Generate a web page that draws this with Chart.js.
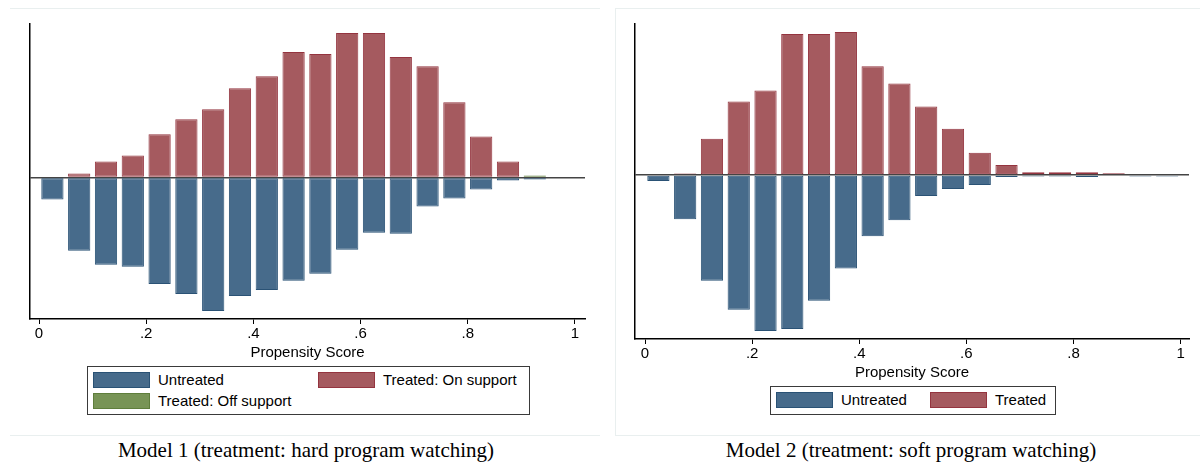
<!DOCTYPE html>
<html>
<head>
<meta charset="utf-8">
<script src="https://cdn.jsdelivr.net/npm/chart.js@4.4.1/dist/chart.umd.min.js"></script>
<style>
    html, body { margin: 0; padding: 0; background: #ffffff; }
    body { width: 1200px; height: 466px; position: relative; overflow: hidden; font-family: "Liberation Sans", Arial, sans-serif; }
    .panel { position: absolute; border: 1px solid #e9efef; }
    #panel-1 { left: 10px; top: 8px; width: 590px; height: 426px; border-left: none; border-right: none; }
    #panel-2 { left: 615px; top: 8px; width: 590px; height: 426px; border-right: none; }
    .chart-box { position: absolute; }
    #box-1 { left: 0; top: 0; width: 600px; height: 364px; }
    #box-2 { left: 600px; top: 0; width: 600px; height: 384px; }
    .legend { position: absolute; border: 1.5px solid #3a3a3a; box-sizing: border-box; font-size: 15px; color: #000; }
    #legend-1 { left: 87px; top: 366px; width: 443px; height: 49px; }
    #legend-2 { left: 770px; top: 386px; width: 286px; height: 29px; }
    .legend-item { position: absolute; height: 16px; line-height: 16px; white-space: nowrap; }
    .swatch { position: absolute; left: 0; top: 0; width: 55px; height: 14px; border: 1px solid; }
    .legend-item span.lbl { position: absolute; left: 65px; top: 0; }
    .caption { position: absolute; top: 438px; font-family: "Liberation Serif", "Times New Roman", serif; font-size: 21px; color: #000; text-align: center; width: 600px; }
</style>
</head>
<body>
<div class="panel" id="panel-1"></div>
<div class="panel" id="panel-2"></div>
<div class="chart-box" id="box-1"><canvas id="chart-1"></canvas></div>
<div class="chart-box" id="box-2"><canvas id="chart-2"></canvas></div>
<div class="legend" id="legend-1"></div>
<div class="legend" id="legend-2"></div>
<div class="caption" style="left: 6px;">Model 1 (treatment: hard program watching)</div>
<div class="caption" style="left: 611px;">Model 2 (treatment: soft program watching)</div>

<script>
// --- DATOS ---
const tickValues = [0, 0.2, 0.4, 0.6, 0.8, 1];
const tickLabels = ['0', '.2', '.4', '.6', '.8', '1'];
const axisTitle = 'Propensity Score';

// Modelo 1: centros de los intervalos (ancho .05)
const binCenters1 = [0.025, 0.075, 0.125, 0.175, 0.225, 0.275, 0.325, 0.375, 0.425, 0.475,
    0.525, 0.575, 0.625, 0.675, 0.725, 0.775, 0.825, 0.875, 0.925];
const untreated1 = [-22, -73, -87, -89, -106, -116, -133, -118, -112, -103,
    -96, -72, -55, -56, -29, -21, -12, -3, -2];
const treatedOn1 = [0, 4, 16, 22, 43, 58, 68, 89, 101, 125,
    123, 144, 144, 120, 111, 75, 41, 16, 0];
const treatedOff1 = [0, 0, 0, 0, 0, 0, 0, 0, 0, 0,
    0, 0, 0, 0, 0, 0, 0, 0, 2];

// Modelo 2
const binCenters2 = [0.025, 0.075, 0.125, 0.175, 0.225, 0.275, 0.325, 0.375, 0.425, 0.475,
    0.525, 0.575, 0.625, 0.675, 0.725, 0.775, 0.825, 0.875, 0.925, 0.975];
const untreated2 = [-6, -44, -105, -134, -155, -153, -125, -93, -61, -45,
    -21, -14, -10, -2, -1.5, -1.5, -2, 0, -1.5, -1.5];
const treated2 = [0, 1.5, 36, 73, 84, 140, 140, 142, 108, 91,
    68, 46, 22, 10, 2.7, 2.7, 2.7, 1.7, 0, 0];

// Colores estilo Stata
const blueFill = '#476b8b';
const blueLine = '#2a5275';
const redFill = '#a55a5f';
const redLine = '#94343f';
const greenFill = '#789456';
const greenLine = '#5f7e3c';

const toPoints = (xs, ys) => xs.map((x, i) => ({ x: x, y: ys[i] }));

const makeDataset = (label, xs, ys, fill, line) => ({
    label: label,
    data: toPoints(xs, ys),
    backgroundColor: fill,
    borderColor: line,
    borderWidth: 1,
    borderSkipped: false,
    grouped: false,
    categoryPercentage: 1,
    barPercentage: 0.83,
});

const makeOptions = (xMin, xMax, yMin, yMax, padding) => ({
    responsive: true,
    maintainAspectRatio: false,
    animation: false,
    devicePixelRatio: 1,
    layout: { padding: padding, autoPadding: false },
    plugins: { legend: { display: false }, tooltip: { enabled: false } },
    scales: {
        x: {
            type: 'linear',
            min: xMin,
            max: xMax,
            offset: false,
            afterBuildTicks: (scale) => { scale.ticks = tickValues.map(v => ({ value: v })); },
            ticks: {
                callback: (value, index) => tickLabels[index],
                color: '#000',
                font: { family: '"Liberation Sans", Arial, sans-serif', size: 15 },
                padding: 1,
                maxRotation: 0,
                autoSkip: false,
            },
            grid: { display: true, offset: false, drawOnChartArea: false, drawTicks: true, tickLength: 5, tickColor: '#000', tickWidth: 1 },
            border: { display: true, color: '#000', width: 1.5 },
            title: {
                display: true,
                text: axisTitle,
                color: '#000',
                font: { family: '"Liberation Sans", Arial, sans-serif', size: 15 },
                padding: { top: 0, bottom: 2 },
            },
        },
        y: {
            min: yMin,
            max: yMax,
            z: 1,
            afterBuildTicks: (scale) => { scale.ticks = [{ value: 0 }]; },
            ticks: { display: false },
            grid: { display: true, drawOnChartArea: true, drawTicks: false, color: '#444', lineWidth: 1.5 },
            border: { display: true, color: '#000', width: 1.5 },
        },
    },
});

// --- GRAFICOS ---
new Chart(document.querySelector('#chart-1'), {
    type: 'bar',
    data: {
        datasets: [
            makeDataset('Untreated', binCenters1, untreated1, blueFill, blueLine),
            makeDataset('Treated: On support', binCenters1, treatedOn1, redFill, redLine),
            makeDataset('Treated: Off support', binCenters1, treatedOff1, greenFill, greenLine),
        ]
    },
    options: makeOptions(-0.0168, 1.0187, -141, 153, { left: 30, right: 15, top: 24, bottom: 0 }),
});

new Chart(document.querySelector('#chart-2'), {
    type: 'bar',
    data: {
        datasets: [
            makeDataset('Untreated', binCenters2, untreated2, blueFill, blueLine),
            makeDataset('Treated', binCenters2, treated2, redFill, redLine),
        ]
    },
    options: makeOptions(-0.0187, 1.0157, -163, 150, { left: 35, right: 11, top: 24, bottom: 0 }),
});

// --- LEYENDAS ---
const buildLegend = (el, items) => {
    items.forEach(item => {
        const div = document.createElement('div');
        div.className = 'legend-item';
        div.style.left = item.left + 'px';
        div.style.top = item.top + 'px';
        div.innerHTML = `<div class="swatch" style="background:${item.fill};border-color:${item.line}"></div><span class="lbl"></span>`;
        div.querySelector('.lbl').textContent = item.label;
        el.appendChild(div);
    });
};

buildLegend(document.querySelector('#legend-1'), [
    { label: 'Untreated', fill: blueFill, line: blueLine, left: 5, top: 5 },
    { label: 'Treated: On support', fill: redFill, line: redLine, left: 230, top: 5 },
    { label: 'Treated: Off support', fill: greenFill, line: greenLine, left: 5, top: 26 },
]);
buildLegend(document.querySelector('#legend-2'), [
    { label: 'Untreated', fill: blueFill, line: blueLine, left: 5, top: 5 },
    { label: 'Treated', fill: redFill, line: redLine, left: 159, top: 5 },
]);
</script>
</body>
</html>
